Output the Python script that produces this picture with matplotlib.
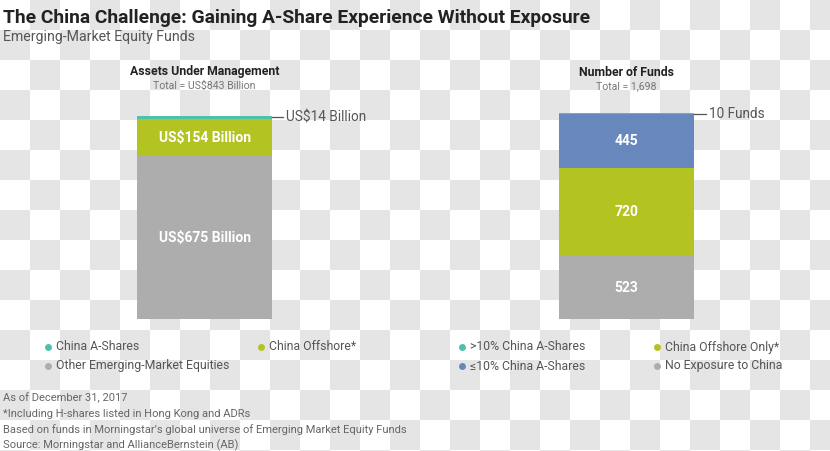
import numpy as np
import matplotlib
matplotlib.use("Agg")
import matplotlib.pyplot as plt
from matplotlib import font_manager

# ---------------- data ----------------
aum_labels = ["Other Emerging-Market Equities", "China Offshore*", "China A-Shares"]
aum_values = [675, 154, 14]          # US$ billion
aum_text = ["US$675 Billion", "US$154 Billion", "US$14 Billion"]

fund_labels = ["No Exposure to China", "China Offshore Only*", "\u226410% China A-Shares", ">10% China A-Shares"]
fund_values = [523, 720, 445, 10]
fund_text = ["523", "720", "445", "10 Funds"]

footnotes = [
    "As of December 31, 2017",
    "*Including H-shares listed in Hong Kong and ADRs",
    "Based on funds in Morningstar\u2019s global universe of Emerging Market Equity Funds",
    "Source: Morningstar and AllianceBernstein (AB)",
]

C_GRAY = "#adadad"
C_GREEN = "#b3c322"
C_TEAL = "#4fc0ab"
C_BLUE = "#6888bd"
aum_colors = [C_GRAY, C_GREEN, C_TEAL]
fund_colors = [C_GRAY, C_GREEN, C_BLUE, C_TEAL]

# ---------------- fonts ----------------
names = {f.name for f in font_manager.fontManager.ttflist}
main_font = "Liberation Sans Narrow" if "Liberation Sans Narrow" in names else "Roboto"
FAM = [main_font, "DejaVu Sans"]
plt.rcParams["font.family"] = FAM

W, H = 830, 451
fig = plt.figure(figsize=(W / 100, H / 100), dpi=100)

# checkerboard background (transparency pattern in the reference)
yy, xx = np.mgrid[0:H, 0:W]
chk = ((xx // 30 + yy // 30) % 2).astype(float)
bg = np.where(chk[..., None] > 0, 229 / 255, 1.0) * np.ones((H, W, 3))
fig.figimage(bg, xo=0, yo=0, origin="upper", zorder=-10)


def fax(x0, y0, x1, y1):
    return fig.add_axes([x0 / W, 1 - y1 / H, (x1 - x0) / W, (y1 - y0) / H])


# ---------------- bars ----------------
def stacked(ax, values, colors, total):
    bottom = 0
    for v, c in zip(values, colors):
        ax.bar(0, v, bottom=bottom, width=1, color=c, align="edge")
        bottom += v
    ax.set_xlim(0, 1)
    ax.set_ylim(0, total)
    ax.axis("off")
    ax.patch.set_alpha(0)


axL = fax(137, 115.7, 272.3, 319)
stacked(axL, aum_values, aum_colors, sum(aum_values))
axR = fax(559, 113, 694, 319.3)
stacked(axR, fund_values, fund_colors, sum(fund_values))

# inside labels
cum = np.cumsum([0] + aum_values)
for i in range(2):
    axL.text(0.5, (cum[i] + cum[i + 1]) / 2, aum_text[i], ha="center", va="center",
             color="white", fontsize=10, fontweight="bold")
cumf = np.cumsum([0] + fund_values)
for i in range(3):
    axR.text(0.5, (cumf[i] + cumf[i + 1]) / 2, fund_text[i], ha="center", va="center",
             color="white", fontsize=10, fontweight="bold")

# outside annotations with leader lines
yL = cum[2] + aum_values[2] / 2
axL.plot([1.0, 1.08], [yL, yL], color="#555555", lw=0.9, clip_on=False)
axL.text(1.1, yL, aum_text[2], ha="left", va="center", color="#555555", fontsize=9.8)
yR = cumf[3] + fund_values[3] / 2
axR.plot([1.0, 1.09], [yR, yR], color="#555555", lw=0.9, clip_on=False)
axR.text(1.11, yR, fund_text[3], ha="left", va="center", color="#555555", fontsize=9.8)

# ---------------- overlay text ----------------
ov = fig.add_axes([0, 0, 1, 1])
ov.set_xlim(0, W)
ov.set_ylim(H, 0)
ov.axis("off")
ov.patch.set_alpha(0)

ov.text(3, 18, "The China Challenge: Gaining A-Share Experience Without Exposure",
        ha="left", va="center", fontsize=13.9, fontweight="bold", color="#222222")
ov.text(3, 37, "Emerging-Market Equity Funds", ha="left", va="center", fontsize=10.2, color="#555555")

ov.text(204.5, 72, "Assets Under Management", ha="center", va="center", fontsize=8.8,
        fontweight="bold", color="#222222")
ov.text(204.5, 86, "Total = US$%d Billion" % sum(aum_values), ha="center", va="center",
        fontsize=7.6, color="#777777")
ov.text(626.5, 72, "Number of Funds", ha="center", va="center", fontsize=8.8,
        fontweight="bold", color="#222222")
ov.text(626.5, 86, "Total = {:,}".format(sum(fund_values)), ha="center", va="center",
        fontsize=7.6, color="#777777")

# legends
def legend_item(x, y, color, label):
    ov.plot([x], [y], marker="o", ms=5, color=color, mec="none")
    ov.text(x + 8, y, label, ha="left", va="center", fontsize=8.8, color="#555555")

legend_item(48, 347, aum_colors[2], aum_labels[2])
legend_item(261, 347, aum_colors[1], aum_labels[1])
legend_item(48, 366, aum_colors[0], aum_labels[0])
legend_item(462, 347, fund_colors[3], fund_labels[3])
legend_item(657, 347, fund_colors[1], fund_labels[1])
legend_item(462, 366, fund_colors[2], fund_labels[2])
legend_item(657, 366, fund_colors[0], fund_labels[0])

for i, line in enumerate(footnotes):
    ov.text(3, 398 + 15.7 * i, line, ha="left", va="center", fontsize=8, color="#666666")

fig.savefig("out.png", dpi=100)
